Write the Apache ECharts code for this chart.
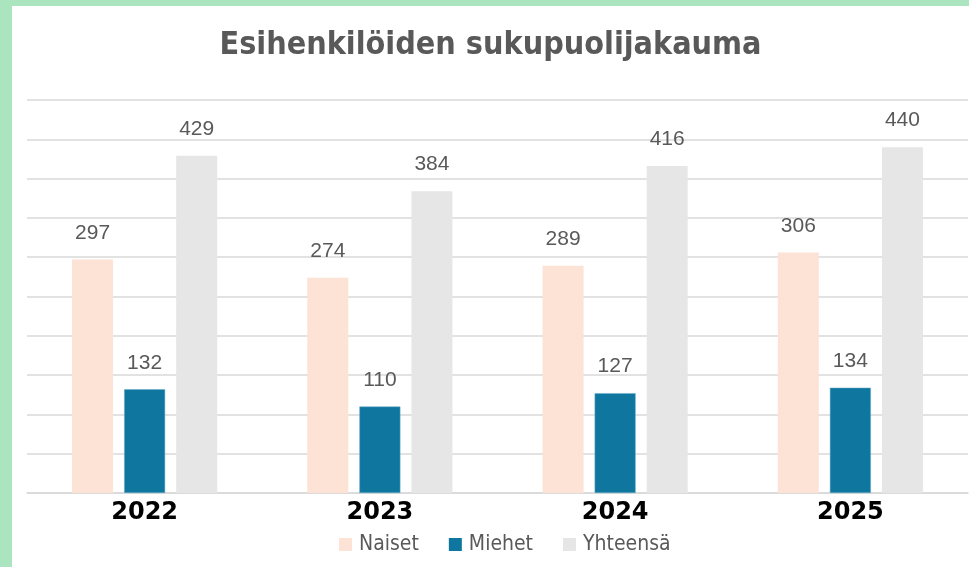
<!DOCTYPE html>
<html>
<head>
<meta charset="utf-8">
<script src="https://cdn.jsdelivr.net/npm/echarts@6/dist/echarts.min.js"></script>
<style>
html,body{margin:0;padding:0;background:#ABE5C0;width:969px;height:567px;overflow:hidden;}
#chart{position:absolute;left:12px;top:6px;width:957px;height:561px;background:#ffffff;}
</style>
</head>
<body>
<div id="chart"></div>
<script>
var categories = ['2022', '2023', '2024', '2025'];
var naiset = [297, 274, 289, 306];
var miehet = [132, 110, 127, 134];
var yhteensa = [429, 384, 416, 440];
var seriesNames = ['Naiset', 'Miehet', 'Yhteensä'];

var chart = echarts.init(document.getElementById('chart'), null, {renderer: 'canvas'});
var labelStyle = {
  show: true, position: 'top', distance: 16,
  color: '#595959', fontSize: 21, fontFamily: 'Liberation Sans, Arial, sans-serif'
};
chart.setOption({
  animation: false,
  title: {
    text: 'Esihenkilöiden sukupuolijakauma',
    left: 'center', top: 19,
    textStyle: {color: '#595959', fontSize: 32, fontWeight: 'bold', fontFamily: 'DejaVu Sans Condensed, DejaVu Sans, sans-serif'}
  },
  legend: {
    data: seriesNames,
    bottom: 7, left: 322,
    itemWidth: 13, itemHeight: 13, itemGap: 30,
    icon: 'rect',
    itemStyle: {borderWidth: 0},
    textStyle: {color: '#595959', fontSize: 21, fontFamily: 'DejaVu Sans Condensed, DejaVu Sans, sans-serif', padding: [0, 0, 0, 2]}
  },
  grid: {left: 15, right: 1, top: 94, bottom: 74, containLabel: false},
  xAxis: {
    type: 'category', data: categories,
    axisTick: {show: false},
    axisLine: {lineStyle: {color: '#D9D9D9', width: 1.5}},
    axisLabel: {color: '#000000', fontSize: 24, fontWeight: 'bold', margin: 8, fontFamily: 'DejaVu Sans, sans-serif'}
  },
  yAxis: {
    type: 'value', min: 0, max: 500, interval: 50,
    axisLabel: {show: false}, axisLine: {show: false}, axisTick: {show: false},
    splitLine: {lineStyle: {color: '#D9D9D9', width: 1.5}}
  },
  series: [
    {name: seriesNames[0], type: 'bar', data: naiset, barWidth: 41, barGap: '27%', itemStyle: {color: '#FCE3D6'}, label: labelStyle},
    {name: seriesNames[1], type: 'bar', data: miehet, barWidth: 41, barGap: '27%', itemStyle: {color: '#0F76A0', borderColor: '#6FAFCB', borderWidth: 0.5}, label: labelStyle},
    {name: seriesNames[2], type: 'bar', data: yhteensa, barWidth: 41, barGap: '27%', itemStyle: {color: '#E6E6E6'}, label: labelStyle}
  ]
});
</script>
</body>
</html>
